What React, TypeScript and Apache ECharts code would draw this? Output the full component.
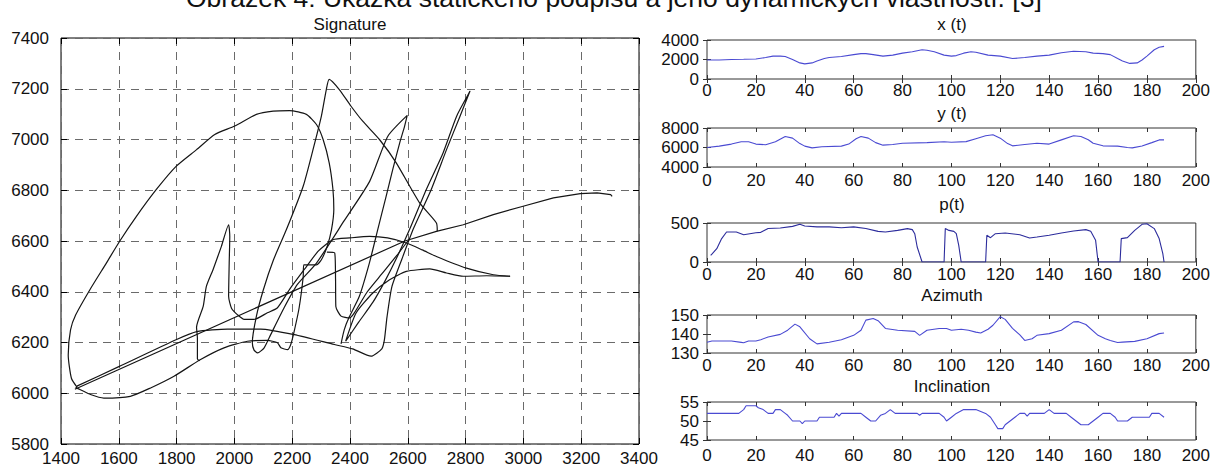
import React, { useEffect, useRef } from "react";
import * as echarts from "echarts";

const mainTitle = "Obrázek 4: Ukázka statického podpisu a jeho dynamických vlastností. [3]";
const signatureTitle = "Signature";
const panelTitles = ["x (t)", "y (t)", "p(t)", "Azimuth", "Inclination"];

// Signature strokes: [x, y]
const strokeLoop = [
  [1456, 6023], [1436, 6059], [1425, 6151], [1433, 6250], [1451, 6309], [1500, 6408], [1557, 6513],
  [1603, 6599], [1661, 6697], [1730, 6803], [1799, 6895], [1869, 6960], [1932, 7020], [2001, 7053],
  [2076, 7099], [2134, 7112], [2191, 7114], [2249, 7099], [2284, 7059], [2307, 7000], [2328, 6908],
  [2341, 6803], [2344, 6724], [2336, 6645], [2321, 6579], [2301, 6526], [2284, 6506], [2240, 6506],
  [2238, 6458], [2224, 6337], [2207, 6245], [2195, 6192], [2184, 6172], [2161, 6179], [2149, 6199],
  [2114, 6208], [2045, 6205], [1964, 6179], [1883, 6133], [1791, 6067], [1710, 6021], [1640, 5988],
  [1548, 5981], [1502, 5995], [1467, 6014], [1450, 6022],
];
const strokeStraight = [
  [1448, 6016], [2590, 6600], [2699, 6638], [2792, 6664], [2896, 6704], [2999, 6737], [3104, 6770],
  [3197, 6787], [3255, 6790], [3302, 6783], [3307, 6776],
];
const strokeMiddle = [
  [1455, 6028], [1600, 6105], [1800, 6212], [1870, 6243], [1976, 6253], [2091, 6253], [2207, 6231],
  [2346, 6192], [2409, 6175], [2473, 6146], [2510, 6175], [2519, 6210], [2528, 6300], [2545, 6420],
  [2580, 6530], [2620, 6650], [2680, 6800], [2734, 6960], [2780, 7090], [2815, 7190], [2769, 7092],
  [2722, 6947], [2664, 6803], [2606, 6645], [2560, 6530], [2520, 6440], [2480, 6360], [2430, 6280],
  [2385, 6205], [2421, 6316], [2479, 6395], [2537, 6447], [2595, 6480], [2676, 6490], [2734, 6474],
  [2792, 6461], [2873, 6463], [2954, 6461],
];
const strokeSpike = [
  [1880, 6128], [1872, 6135], [1872, 6218], [1869, 6260], [1892, 6342], [1903, 6421], [1926, 6487],
  [1955, 6579], [1980, 6664], [1984, 6618], [1982, 6513], [1980, 6382], [1990, 6335], [2010, 6310],
  [2034, 6291], [2068, 6291], [2114, 6317], [2149, 6337], [2195, 6416], [2250, 6500], [2290, 6560],
  [2341, 6605], [2399, 6612], [2468, 6618], [2530, 6612], [2595, 6592], [2650, 6565], [2699, 6539],
  [2803, 6493], [2896, 6467], [2954, 6461],
];
const strokePeaks = [
  [2702, 6638], [2699, 6671], [2641, 6750], [2560, 6908], [2502, 7000], [2444, 7072], [2403, 7132],
  [2363, 7197], [2328, 7237], [2318, 7197], [2301, 7092], [2272, 6960], [2238, 6816], [2180, 6645],
  [2135, 6525], [2100, 6407], [2076, 6303], [2062, 6200], [2068, 6170], [2080, 6159], [2103, 6179],
  [2126, 6232], [2172, 6337], [2218, 6429], [2284, 6513], [2380, 6680], [2468, 6835], [2531, 7013],
  [2598, 7095], [2589, 7053], [2572, 6987], [2548, 6882], [2525, 6776], [2496, 6645], [2467, 6513],
  [2432, 6381], [2398, 6302], [2380, 6250], [2369, 6195],
];
const strokeU = [
  [2320, 6556], [2347, 6553], [2350, 6450], [2351, 6342], [2369, 6304], [2398, 6297], [2415, 6317],
  [2460, 6400], [2510, 6470], [2560, 6540], [2600, 6600],
];

// Time series: [t, value]
const xSeries = [
  [0, 1950], [5, 1950], [10, 2000], [15, 2020], [20, 2050], [24, 2200], [27, 2350], [30, 2350], [32, 2300],
  [35, 2000], [38, 1650], [40, 1550], [43, 1650], [45, 1850], [48, 2100], [50, 2200], [55, 2300], [60, 2500],
  [63, 2600], [65, 2600], [68, 2500], [72, 2350], [76, 2450], [80, 2650], [84, 2800], [88, 3000], [90, 2950],
  [93, 2800], [97, 2450], [100, 2350], [102, 2400], [105, 2650], [108, 2800], [110, 2750], [115, 2450],
  [120, 2350], [125, 2100], [130, 2200], [135, 2350], [140, 2450], [145, 2700], [150, 2850], [155, 2800],
  [158, 2650], [162, 2600], [165, 2500], [168, 2100], [170, 1850], [173, 1600], [176, 1650], [178, 1950],
  [180, 2350], [183, 3000], [185, 3250], [187, 3350],
];
const ySeries = [
  [0, 6000], [5, 6140], [10, 6350], [14, 6590], [17, 6590], [20, 6350], [24, 6280], [28, 6590], [32, 7130],
  [35, 6960], [38, 6400], [40, 6140], [43, 5960], [47, 6070], [55, 6140], [58, 6350], [61, 6900], [63, 7130],
  [66, 6960], [69, 6500], [72, 6240], [76, 6300], [80, 6430], [90, 6500], [97, 6590], [100, 6540],
  [106, 6600], [110, 6900], [114, 7200], [117, 7300], [120, 6960], [123, 6400], [125, 6170], [130, 6300],
  [135, 6430], [140, 6350], [145, 6780], [150, 7200], [153, 7130], [156, 6800], [158, 6430], [162, 6170],
  [168, 6140], [172, 6000], [174, 5960], [178, 6150], [182, 6500], [185, 6780], [187, 6780],
];
const pSeries = [
  [1.5, 85], [2, 100], [4, 170], [6, 300], [8, 385], [12, 385], [15, 350], [20, 375], [22, 380], [25, 430],
  [30, 435], [35, 457], [38, 483], [40, 462], [45, 450], [50, 450], [55, 440], [60, 450], [65, 430],
  [70, 393], [73, 385], [78, 405], [82, 428], [84, 415], [85, 363], [86, 192], [88, 0], [97, 0], [97.5, 428],
  [99, 405], [101, 393], [102, 363], [103, 214], [104, 0], [114, 0], [114.5, 342], [116, 312], [118, 363],
  [122, 372], [128, 350], [132, 308], [135, 320], [140, 342], [145, 372], [150, 397], [155, 415], [157, 393],
  [159, 278], [160, 0], [169, 0], [169.5, 300], [172, 312], [175, 405], [178, 483], [180, 491], [183, 428],
  [185, 300], [186.5, 107], [187, 0],
];
const azimuthSeries = [
  [0, 135.7], [2, 136.3], [10, 136.3], [14, 135.6], [15, 135.4], [17, 136.3], [20, 136.3], [22, 137],
  [25, 138.4], [30, 139.8], [33, 142], [36, 145.2], [38, 143.8], [42, 137.5], [45, 134.8], [50, 135.7],
  [55, 137], [60, 139.3], [63, 142], [65, 147.3], [68, 148.2], [70, 147], [73, 142.9], [78, 142], [85, 141.4],
  [87, 139.3], [90, 142], [95, 142.9], [98, 142.9], [100, 142], [104, 142.5], [107, 142], [110, 141],
  [112, 140.5], [115, 142.5], [117, 144.6], [120, 149.1], [122, 147.7], [125, 143], [128, 139.5],
  [130, 136.6], [133, 137.5], [135, 139.3], [140, 140.2], [145, 142], [150, 146.4], [152, 146.5],
  [155, 145], [160, 139.3], [163, 137.5], [165, 136.6], [168, 135.5], [170, 135.7], [175, 136.1],
  [180, 137.5], [185, 140.2], [187, 140.5],
];
const inclinationSeries = [
  [0, 52], [13, 52], [15, 53], [16, 54], [20, 54], [21, 53.5], [23, 53], [25, 52], [27, 52], [28, 53], [30, 53],
  [32, 52], [33, 51.5], [35, 50], [38, 50], [39, 49.3], [40, 50], [45, 50], [46, 51], [52, 51], [53, 52],
  [54, 51.3], [55, 52], [63, 52], [65, 51], [67, 50], [69, 50], [71, 51.5], [73, 52], [75, 53], [77, 52],
  [86, 52], [87, 51.5], [88, 52], [95, 52], [97, 51], [98, 50], [100, 51], [102, 52], [105, 53], [110, 53],
  [112, 52.5], [114, 52], [116, 51], [118, 49], [119, 48], [121, 48], [122, 49], [124, 50], [126, 51],
  [128, 52], [130, 52], [131, 51.3], [132, 52], [138, 52], [140, 53], [142, 52], [147, 52], [149, 51],
  [151, 50], [153, 49], [156, 49], [158, 50], [160, 51], [162, 52], [165, 52], [167, 51], [168, 50],
  [172, 50], [174, 51], [181, 51], [182, 52], [185, 52], [187, 51],
];

const panelData = [xSeries, ySeries, pSeries, azimuthSeries, inclinationSeries];
const panelMin = [0, 4000, 0, 130, 45];
const panelMax = [4000, 8000, 500, 150, 55];
const panelInterval = [2000, 2000, 500, 10, 5];
const signatureStrokes = [strokeLoop, strokeStraight, strokeMiddle, strokeSpike, strokePeaks, strokeU];

const FONT = "'Liberation Sans', Arial, Helvetica, sans-serif";
const TEXT = "#111";

export default function App() {
  const ref = useRef<HTMLDivElement>(null);
  useEffect(() => {
    if (!ref.current) return;
    const chart = echarts.init(ref.current, undefined, { renderer: "svg" });

    const sigGrid = { left: 61, top: 38, width: 578, height: 406 };
    const panelLeft = 707;
    const panelWidth = 490;
    const panelTops = [40, 128, 223, 315, 402];
    const panelHeights = [39, 39, 39, 38, 38];
    const panelLabelMargin = [3, 5, 4, 4, 7];
    const titleY = [24, 113, 204, 295, 386];

    const plain = (v: number) => String(v);

    const grids: any[] = [
      { ...sigGrid, show: true, borderColor: "#000", borderWidth: 1 },
      ...panelTops.map((t, i) => ({
        left: panelLeft, top: t, width: panelWidth, height: panelHeights[i],
        show: true, borderColor: "#333", borderWidth: 1,
      })),
    ];

    const labelStyle = { color: TEXT, fontFamily: FONT, fontSize: 17, formatter: plain };
    const gridLine = { show: true, lineStyle: { color: "#6a6a6a", type: [8, 6], width: 1 } };

    const xAxes: any[] = [
      {
        type: "value", gridIndex: 0, min: 1400, max: 3400, interval: 200,
        axisLine: { show: false },
        axisTick: { inside: true, length: 6, lineStyle: { color: "#000" } },
        axisLabel: { ...labelStyle, margin: 6 },
        splitLine: gridLine,
      },
      {
        type: "value", gridIndex: 0, position: "top", min: 1400, max: 3400, interval: 200,
        axisLine: { show: false },
        axisTick: { inside: true, length: 6, lineStyle: { color: "#000" } },
        axisLabel: { show: false }, splitLine: { show: false },
      },
    ];
    const yAxes: any[] = [
      {
        type: "value", gridIndex: 0, min: 5800, max: 7400, interval: 200,
        axisLine: { show: false },
        axisTick: { inside: true, length: 6, lineStyle: { color: "#000" } },
        axisLabel: { ...labelStyle, margin: 12, padding: [4, 0, 0, 0] },
        splitLine: gridLine,
      },
      {
        type: "value", gridIndex: 0, position: "right", min: 5800, max: 7400, interval: 200,
        axisLine: { show: false },
        axisTick: { inside: true, length: 6, lineStyle: { color: "#000" } },
        axisLabel: { show: false }, splitLine: { show: false },
      },
    ];

    panelTops.forEach((_, i) => {
      const g = i + 1;
      xAxes.push({
        type: "value", gridIndex: g, min: 0, max: 200, interval: 20,
        axisLine: { show: false },
        axisTick: { inside: true, length: 4, lineStyle: { color: "#333" } },
        axisLabel: { ...labelStyle, margin: panelLabelMargin[i] },
        splitLine: { show: false },
      });
      xAxes.push({
        type: "value", gridIndex: g, position: "top", min: 0, max: 200, interval: 20,
        axisLine: { show: false },
        axisTick: { inside: true, length: 4, lineStyle: { color: "#333" } },
        axisLabel: { show: false }, splitLine: { show: false },
      });
      yAxes.push({
        type: "value", gridIndex: g, min: panelMin[i], max: panelMax[i], interval: panelInterval[i],
        axisLine: { show: false },
        axisTick: { inside: true, length: 4, lineStyle: { color: "#333" } },
        axisLabel: { ...labelStyle, margin: 8 },
        splitLine: { show: false },
      });
      yAxes.push({
        type: "value", gridIndex: g, position: "right", min: panelMin[i], max: panelMax[i], interval: panelInterval[i],
        axisLine: { show: false },
        axisTick: { inside: true, length: 4, lineStyle: { color: "#333" } },
        axisLabel: { show: false }, splitLine: { show: false },
      });
    });

    const series: any[] = [];
    signatureStrokes.forEach((s) => {
      series.push({
        type: "line", xAxisIndex: 0, yAxisIndex: 0, data: s,
        showSymbol: false, smooth: s === strokeStraight ? false : 0.2,
        lineStyle: { color: "#151515", width: 1.2 },
        silent: true,
      });
    });
    panelData.forEach((d, i) => {
      series.push({
        type: "line", xAxisIndex: 2 + 2 * i, yAxisIndex: 2 + 2 * i, data: d,
        showSymbol: false,
        lineStyle: { color: i === 2 ? "#2c2c9c" : "#4a4ad2", width: 1.1 },
        silent: true,
      });
    });

    const graphic: any[] = [
      {
        type: "text", x: 186, y: -2,
        style: { text: mainTitle, font: `26.5px ${FONT}`, fill: "#111", textAlign: "left", textVerticalAlign: "middle" },
      },
      {
        type: "text", x: 350, y: 24,
        style: { text: signatureTitle, font: `17px ${FONT}`, fill: TEXT, textAlign: "center", textVerticalAlign: "middle" },
      },
      ...panelTitles.map((t, i) => ({
        type: "text", x: 952, y: titleY[i],
        style: { text: t, font: `17px ${FONT}`, fill: TEXT, textAlign: "center", textVerticalAlign: "middle" },
      })),
    ];

    chart.setOption({
      animation: false,
      backgroundColor: "#fff",
      grid: grids,
      xAxis: xAxes,
      yAxis: yAxes,
      series,
      graphic,
    });
    return () => chart.dispose();
  }, []);

  return (
    <div
      ref={ref}
      style={{ position: "absolute", left: 0, top: 0, width: 1213, height: 470, background: "#fff" }}
    />
  );
}
